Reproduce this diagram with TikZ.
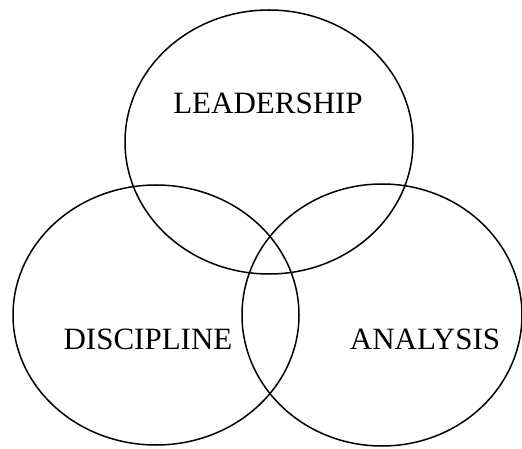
\documentclass[tikz,border=0pt]{standalone}
\usepackage{fontspec}
\setmainfont{Liberation Serif}
\usepackage{tikz}
\usetikzlibrary{positioning}

\begin{document}
\begin{tikzpicture}[line cap=round,line join=round,x=1pt,y=-1pt]
\useasboundingbox (0,0) rectangle (522,449);
\tikzset{ring/.style={line width=1.5pt,color=black}}

\draw [ring] (269,142) ellipse (144 and 132);
\draw [ring] (156,315) ellipse (143 and 130);
\draw [ring] (382,315) ellipse (140 and 131);
%\draw [ring] (262,140) circle (135);

\draw (268,103) node[color=black] (lead) {\fontsize{31}{31}\selectfont LEADERSHIP};
\draw (148,339) node[color=black] (disc) {\fontsize{31}{31}\selectfont DISCIPLINE};
\draw (425,339) node[color=black] (anal) {\fontsize{31}{31}\selectfont ANALYSIS};
\end{tikzpicture}
\end{document}
